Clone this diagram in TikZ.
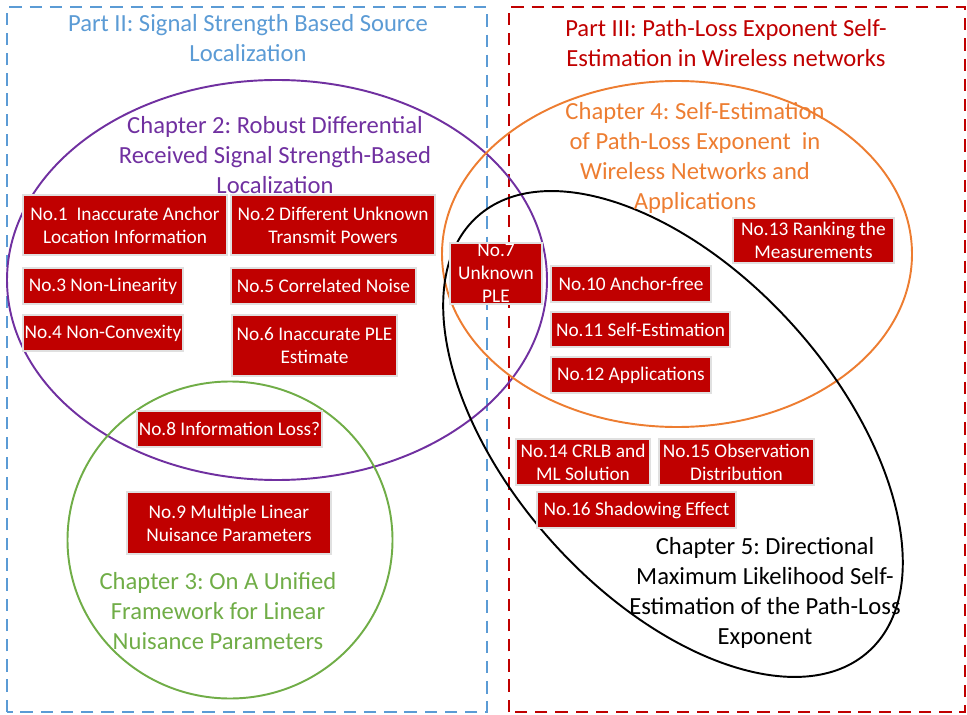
\documentclass[tikz,border=0pt]{standalone}
\usepackage{fontspec}
\setmainfont{Carlito}
\frenchspacing

\definecolor{partblue}{RGB}{91,155,213}
\definecolor{partred}{RGB}{192,0,0}
\definecolor{chappurple}{RGB}{112,48,160}
\definecolor{chaporange}{RGB}{237,125,49}
\definecolor{chapgreen}{RGB}{112,173,71}
\definecolor{issuered}{RGB}{192,0,0}

\begin{document}
\begin{tikzpicture}[
    issue/.style={fill=issuered, draw=white!88!black, line width=0.6pt, text=white,
                  align=center, inner sep=0pt, font=\fontsize{11}{13}\selectfont},
    title/.style={align=center, font=\fontsize{14}{17}\selectfont},
    part/.style={line width=1.1pt, dash pattern=on 7pt off 4.5pt},
    chap/.style={line width=1.1pt}
]

    % Fix the page size
    \useasboundingbox (0,0) rectangle (19.34,14.28);

    % The two parts as dashed frames
    \draw[part, partblue] (0.14,0.04) rectangle (9.74,14.14);
    \draw[part, partred] (10.18,0.04) rectangle (19.30,14.14);

    % Define the centres of the chapter sets
    \coordinate (C2) at (5.54,8.68);
    \coordinate (C3) at (4.60,3.48);
    \coordinate (C4) at (13.54,9.20);
    \coordinate (C5) at (13.46,5.60);

    % Draw the chapter sets
    \draw[chap, chappurple] (C2) ellipse [x radius=5.40, y radius=4.00];
    \draw[chap, chapgreen] (C3) ellipse [x radius=3.25, y radius=3.17];
    \draw[chap, chaporange] (C4) ellipse [x radius=4.70, y radius=3.46];
    % Chapter 5 is tilted, major axis running down to the right
    \draw[chap, black, rotate around={-48:(C5)}] (C5) ellipse [x radius=5.85, y radius=3.24];

    % Titles of the parts and chapters
    \node[title, text=partblue] (part2) at (4.96,13.52) {Part II: Signal Strength Based Source\\Localization};
    \node[title, text=partred] (part3) at (14.52,13.42) {Part III: Path-Loss Exponent Self-\\Estimation in Wireless networks};
    \node[title, text=chappurple] (chap2) at (5.50,11.18) {Chapter 2: Robust Differential\\Received Signal Strength-Based\\Localization};
    \node[title, text=chaporange] (chap4) at (13.90,11.12) {Chapter 4: Self-Estimation\\of Path-Loss Exponent~ in\\Wireless Networks and\\Applications};
    \node[title, text=chapgreen] (chap3) at (4.36,2.06) {Chapter 3: On A Unified\\Framework for Linear\\Nuisance Parameters};
    \node[title, text=black] (chap5) at (15.30,2.42) {Chapter 5: Directional\\Maximum Likelihood Self-\\Estimation of the Path-Loss\\Exponent};

    % The issues, Chapter 2
    \node[issue, minimum width=4.08cm, minimum height=1.20cm] (no1) at (2.50,9.78) {No.1~ Inaccurate Anchor\\Location Information};
    \node[issue, minimum width=4.08cm, minimum height=1.20cm] (no2) at (6.66,9.78) {No.2 Different Unknown\\Transmit Powers};
    \node[issue, minimum width=3.20cm, minimum height=0.72cm] (no3) at (2.06,8.56) {No.3 Non-Linearity};
    \node[issue, minimum width=3.20cm, minimum height=0.72cm] (no4) at (2.06,7.62) {No.4 Non-Convexity};
    \node[issue, minimum width=3.70cm, minimum height=0.72cm] (no5) at (6.47,8.56) {No.5 Correlated Noise};
    \node[issue, minimum width=3.30cm, minimum height=1.22cm] (no6) at (6.29,7.37) {No.6 Inaccurate PLE\\Estimate};

    % Shared by chapters 2, 4 and 5
    \node[issue, minimum width=1.84cm, minimum height=1.22cm] (no7) at (9.92,8.81) {No.7\\Unknown\\PLE};

    % Chapters 2 and 3
    \node[issue, minimum width=3.70cm, minimum height=0.72cm] (no8) at (4.59,5.70) {No.8 Information Loss?};
    \node[issue, minimum width=4.08cm, minimum height=1.24cm] (no9) at (4.58,3.82) {No.9 Multiple Linear\\Nuisance Parameters};

    % Chapters 4 and 5
    \node[issue, minimum width=3.20cm, minimum height=0.72cm] (no10) at (12.62,8.60) {No.10 Anchor-free};
    \node[issue, minimum width=3.58cm, minimum height=0.70cm] (no11) at (12.81,7.69) {No.11 Self-Estimation};
    \node[issue, minimum width=3.20cm, minimum height=0.72cm] (no12) at (12.62,6.78) {No.12 Applications};
    \node[issue, minimum width=3.22cm, minimum height=0.90cm] (no13) at (16.27,9.47) {No.13 Ranking the\\Measurements};

    % Chapter 5
    \node[issue, minimum width=2.68cm, minimum height=0.92cm] (no14) at (11.66,5.04) {No.14 CRLB and\\ML Solution};
    \node[issue, minimum width=3.10cm, minimum height=0.92cm] (no15) at (14.73,5.04) {No.15 Observation\\Distribution};
    \node[issue, minimum width=3.98cm, minimum height=0.72cm] (no16) at (12.73,4.08) {No.16 Shadowing Effect};

\end{tikzpicture}
\end{document}
